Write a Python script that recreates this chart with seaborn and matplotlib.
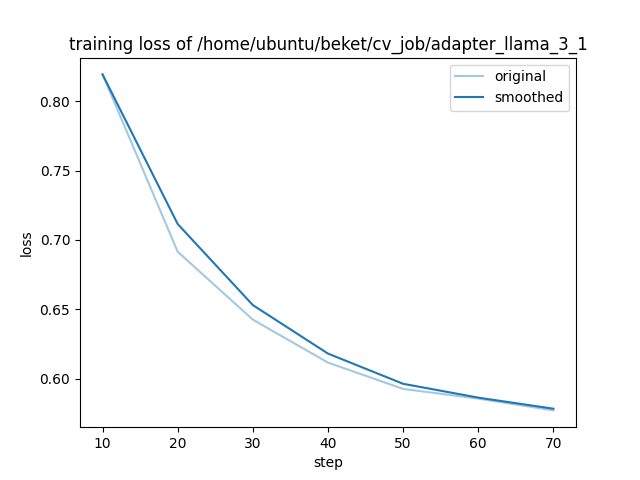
import matplotlib
matplotlib.use("Agg")
import matplotlib.pyplot as plt
import seaborn as sns
import pandas as pd

steps = [10, 20, 30, 40, 50, 60, 70]
original = [0.8195, 0.6915, 0.6425, 0.6115, 0.5925, 0.5855, 0.5770]
smoothed = [0.8195, 0.7115, 0.6530, 0.6180, 0.5962, 0.5862, 0.5782]

df = pd.DataFrame({"step": steps, "original": original, "smoothed": smoothed})

fig, ax = plt.subplots(figsize=(6.4, 4.8), dpi=100)
sns.lineplot(data=df, x="step", y="original", ax=ax, color="#1f77b4", alpha=0.4, label="original")
sns.lineplot(data=df, x="step", y="smoothed", ax=ax, color="#1f77b4", label="smoothed")
ax.set_title("training loss of /home/ubuntu/beket/cv_job/adapter_llama_3_1")
ax.set_xlabel("step")
ax.set_ylabel("loss")
ax.legend(loc="upper right")
fig.savefig("out.png", dpi=100)
